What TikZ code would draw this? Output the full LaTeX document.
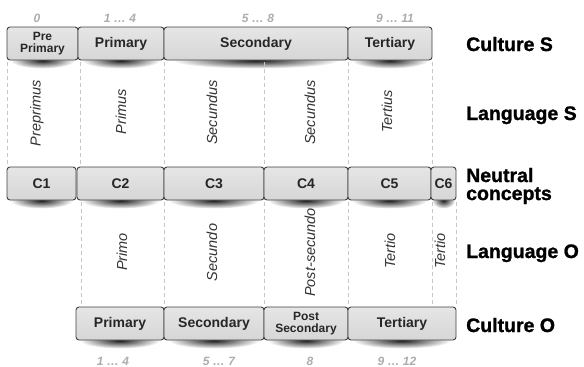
\documentclass[tikz,border=0pt]{standalone}
\usepackage{fontspec}
\setmainfont{Liberation Sans}
\newfontfamily\labelfont{Liberation Sans}[BoldFeatures={FakeBold=1.2}]
\usetikzlibrary{calc,fadings,backgrounds}

\tikzfading[name=softshade, inner color=transparent!0, outer color=transparent!100]

\tikzset{
  box/.style={draw=black!75, line width=0.9pt, rounded corners=3pt,
    top color=gray!20, middle color=white, bottom color=gray!32,
    minimum height=33pt, inner sep=0pt, align=center, text=black!85,
    font=\fontsize{14}{14}\selectfont\bfseries},
  twoline/.style={box, font=\fontsize{12}{12.5}\selectfont\bfseries},
  boxshade/.style={fill=black!90, path fading=softshade},
  sep/.style={gray!45, line width=0.8pt, dash pattern=on 4pt off 3pt},
  num/.style={anchor=base, text=gray!65, font=\fontsize{12}{12}\selectfont\bfseries\itshape},
  term/.style={rotate=90, text=black!80, font=\fontsize{14.5}{15}\selectfont\itshape},
  lbl/.style={anchor=base west, inner sep=0pt, align=left, text=black,
    font=\fontsize{19.5}{18}\selectfont\labelfont\bfseries}
}

\begin{document}
\begin{tikzpicture}[x=1pt,y=-1pt]
\useasboundingbox (0,0) rectangle (584,367);

%culture S
\node[twoline, minimum width=71] (pre) at (42.5,43.5) {Pre\\Primary};
\node[box, minimum width=86] (pri) at (121,43.5) {Primary};
\node[box, minimum width=184] (sec) at (256,43.5) {Secondary};
\node[box, minimum width=84] (ter) at (390,43.5) {Tertiary};
\node[num] (n0) at (37,22) {0};
\node[num] (n1) at (120,22) {1 … 4};
\node[num] (n5) at (258,22) {5 … 8};
\node[num] (n9) at (395,22) {9 … 11};

%neutral concepts
\node[box, minimum width=69] (c1) at (41.5,183.5) {C1};
\node[box, minimum width=87] (c2) at (120.5,183.5) {C2};
\node[box, minimum width=100] (c3) at (214,183.5) {C3};
\node[box, minimum width=84] (c4) at (306,183.5) {C4};
\node[box, minimum width=83] (c5) at (389.5,183.5) {C5};
\node[box, minimum width=25] (c6) at (443.5,183.5) {C6};

%culture O
\node[box, minimum width=88] (opri) at (120,323.5) {Primary};
\node[box, minimum width=100] (osec) at (214,323.5) {Secondary};
\node[twoline, minimum width=84] (opost) at (306,323.5) {Post\\Secondary};
\node[box, minimum width=108] (oter) at (402,323.5) {Tertiary};
\node[num] (m1) at (113,365) {1 … 4};
\node[num] (m5) at (219,365) {5 … 7};
\node[num] (m8) at (310,365) {8};
\node[num] (m9) at (397,365) {9 … 12};

%shadows under the boxes
\begin{scope}[on background layer]
\foreach \b in {pre,pri,sec,ter,c1,c2,c3,c4,c5,c6,opri,osec,opost,oter}
  \fill[boxshade] let \p1=(\b.south west), \p2=(\b.south east) in
    (\b.south) ellipse ({0.45*(\x2-\x1)} and 8pt);
\end{scope}

%language S
\foreach \x [count=\i] in {7,80,164,264,348,432}{
  \coordinate (st\i) at (\x,62);
  \coordinate (sb\i) at (\x,166);
  \draw[sep] (st\i) -- (sb\i);
}
\node[term] (ls1) at (37,113) {Preprimus};
\node[term] (ls2) at (121,111.5) {Primus};
\node[term] (ls3) at (212,112.5) {Secundus};
\node[term] (ls4) at (310,112.5) {Secundus};
\node[term] (ls5) at (387,111.5) {Tertius};

%language O
\foreach \x [count=\i] in {81,164,264,348,432,456}{
  \coordinate (ot\i) at (\x,202);
  \coordinate (ob\i) at (\x,305);
  \draw[sep] (ot\i) -- (ob\i);
}
\node[term] (lo1) at (122,252) {Primo};
\node[term] (lo2) at (212,252.5) {Secundo};
\node[term] (lo3) at (310,252.5) {Post-secundo};
\node[term] (lo4) at (390,251) {Tertio};
\node[term] (lo5) at (440,251) {Tertio};

%row labels
\node[lbl] (cs) at (466,51) {Culture S};
\node[lbl] (ls) at (466,120) {Language S};
\node[lbl, anchor=west] (nc) at (466,186) {Neutral\\concepts};
\node[lbl] (lo) at (466,258) {Language O};
\node[lbl] (co) at (466,332) {Culture O};
\end{tikzpicture}
\end{document}
